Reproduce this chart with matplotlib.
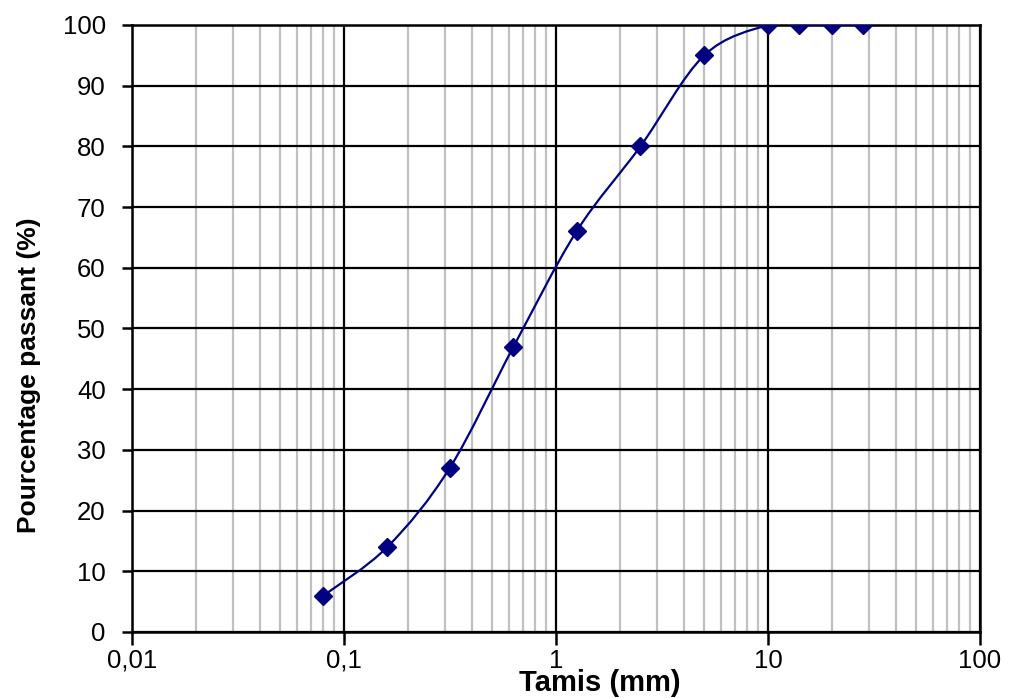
import numpy as np
import matplotlib.pyplot as plt
from matplotlib.path import Path
from matplotlib.patches import PathPatch
from matplotlib.ticker import FixedLocator, FuncFormatter, LogLocator, NullFormatter

plt.rcParams['font.family'] = ['Liberation Sans', 'DejaVu Sans']

# Sieve sizes (mm) and percentage passing
tamis = [0.08, 0.16, 0.315, 0.63, 1.25, 2.5, 5, 10, 14, 20, 28]
passant = [6, 14, 27, 47, 66, 80, 95, 100, 100, 100, 100]
x_ticks = [0.01, 0.1, 1, 10, 100]
x_labels = ['0,01', '0,1', '1', '10', '100']
y_ticks = list(range(0, 101, 10))

fig = plt.figure(figsize=(10.18, 6.98), dpi=100)
ax = fig.add_axes([0.1297, 0.0946, 0.8330, 0.8696])
ax.set_xscale('log')
ax.set_xlim(0.01, 100)
ax.set_ylim(0, 100)

ax.xaxis.set_major_locator(FixedLocator(x_ticks))
ax.xaxis.set_major_formatter(FuncFormatter(lambda v, p: x_labels[x_ticks.index(v)] if v in x_ticks else ''))
ax.xaxis.set_minor_locator(LogLocator(base=10, subs=np.arange(2, 10), numticks=20))
ax.xaxis.set_minor_formatter(NullFormatter())
ax.set_yticks(y_ticks)

ax.grid(which='minor', axis='x', color='#c0c0c0', linewidth=1.6, zorder=0)
ax.grid(which='major', axis='both', color='black', linewidth=1.6, zorder=1)
ax.set_axisbelow(True)
for s in ax.spines.values():
    s.set_linewidth(1.8)
    s.set_color('black')

ax.tick_params(axis='x', which='major', length=9, width=1.8, labelsize=18.5, pad=3)
ax.tick_params(axis='y', which='major', length=7, width=1.8, labelsize=18.5, pad=12)
ax.tick_params(which='minor', length=0)

# Excel-like smoothed line: cubic Bezier segments in (log x, y) space
lx = np.log10(tamis)
py = np.array(passant, dtype=float)
n = len(lx)
verts = [(tamis[0], passant[0])]
codes = [Path.MOVETO]
for i in range(n - 1):
    i0 = max(i - 1, 0)
    i3 = min(i + 2, n - 1)
    c1x = lx[i] + (lx[i + 1] - lx[i0]) / 6
    c1y = py[i] + (py[i + 1] - py[i0]) / 6
    c2x = lx[i + 1] - (lx[i3] - lx[i]) / 6
    c2y = py[i + 1] - (py[i3] - py[i]) / 6
    verts += [(10 ** c1x, c1y), (10 ** c2x, c2y), (tamis[i + 1], passant[i + 1])]
    codes += [Path.CURVE4] * 3
ax.add_patch(PathPatch(Path(verts, codes), fill=False, edgecolor='#000080', linewidth=1.6, zorder=3))
ax.plot(tamis, passant, linestyle='none', marker='D', markersize=9.5, color='#000080', zorder=4)

fig.text(600 / 1018, (698 - 683) / 698, 'Tamis (mm)', fontsize=21, fontweight='bold',
         ha='center', va='center')
fig.text(29 / 1018, (698 - 375) / 698, 'Pourcentage passant (%)', fontsize=19, fontweight='bold',
         rotation=90, ha='center', va='center')

fig.savefig('out.png', dpi=100)
